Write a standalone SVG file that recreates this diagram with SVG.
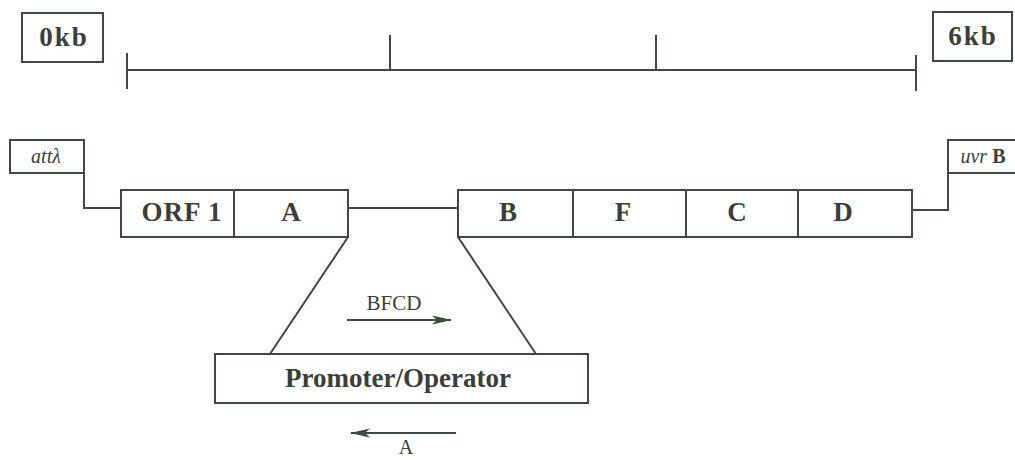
<svg xmlns="http://www.w3.org/2000/svg" width="1015" height="460" viewBox="0 0 1015 460">
<defs>
<style>
.s{fill:none;stroke:#3e4a3e;stroke-width:2}
.b{fill:#fff;stroke:#3e4a3e;stroke-width:2}
.t{font-family:"Liberation Serif","Times New Roman","DejaVu Serif",serif;fill:#3a3f3a;text-anchor:middle}
.bd{font-weight:bold;font-size:27px}
.it{font-style:italic;font-size:20px}
</style>
<marker id="ah" viewBox="0 0 20 10" refX="19" refY="5" markerWidth="20" markerHeight="10" markerUnits="userSpaceOnUse" orient="auto"><path d="M0,0.5 L20,5 L0,9.5 L5,5 Z" fill="#3e4a3e"/></marker>
</defs>
<rect width="1015" height="460" fill="#fff"/>
<g id="connectors">
<path class="s" d="M127,70 H916 M127,53 V89 M916,55 V91 M390,35 V70 M656,35 V70"/>
<path class="s" d="M84,140 V208 H121"/>
<path class="s" d="M348,208 H458"/>
<path class="s" d="M912,210 H948 V173"/>
<path class="s" d="M348,237 L270,354 M458,237 L536,354"/>
<path class="s" d="M347,320 H451" marker-end="url(#ah)"/>
<path class="s" d="M456,433 H351" marker-end="url(#ah)"/>
</g>
<g id="n0kb"><rect class="b" x="22" y="13" width="81" height="49"/><text class="t bd" x="64" y="46" letter-spacing="2">0kb</text></g>
<g id="n6kb"><rect class="b" x="933" y="12" width="79" height="49"/><text class="t bd" x="973" y="45" letter-spacing="2">6kb</text></g>
<g id="natt"><rect class="b" x="10" y="140" width="74" height="33"/><text class="t it" x="46" y="163">attλ</text></g>
<g id="nuvr"><rect class="b" x="948" y="140" width="70" height="33"/><text class="t" x="983" y="163" font-size="20"><tspan font-style="italic">uvr</tspan> <tspan font-weight="bold">B</tspan></text></g>
<g id="norf1"><rect class="b" x="121" y="190" width="113" height="47"/><text class="t bd" x="182" y="221" letter-spacing="1">ORF 1</text></g>
<g id="nA"><rect class="b" x="234" y="190" width="114" height="47"/><text class="t bd" x="291" y="221">A</text></g>
<g id="nB"><rect class="b" x="458" y="190" width="115" height="47"/><text class="t bd" x="508" y="221">B</text></g>
<g id="nF"><rect class="b" x="573" y="190" width="113" height="47"/><text class="t bd" x="623" y="221">F</text></g>
<g id="nC"><rect class="b" x="686" y="190" width="112" height="47"/><text class="t bd" x="737" y="221">C</text></g>
<g id="nD"><rect class="b" x="798" y="190" width="114" height="47"/><text class="t bd" x="843" y="221">D</text></g>
<g id="npromoter"><rect class="b" x="215" y="354" width="373" height="49"/><text class="t bd" x="398" y="387" font-size="28">Promoter/Operator</text></g>
<g id="lbfcd"><text class="t" x="394" y="310" font-size="21">BFCD</text></g>
<g id="la"><text class="t" x="406" y="454" font-size="20">A</text></g>
</svg>
